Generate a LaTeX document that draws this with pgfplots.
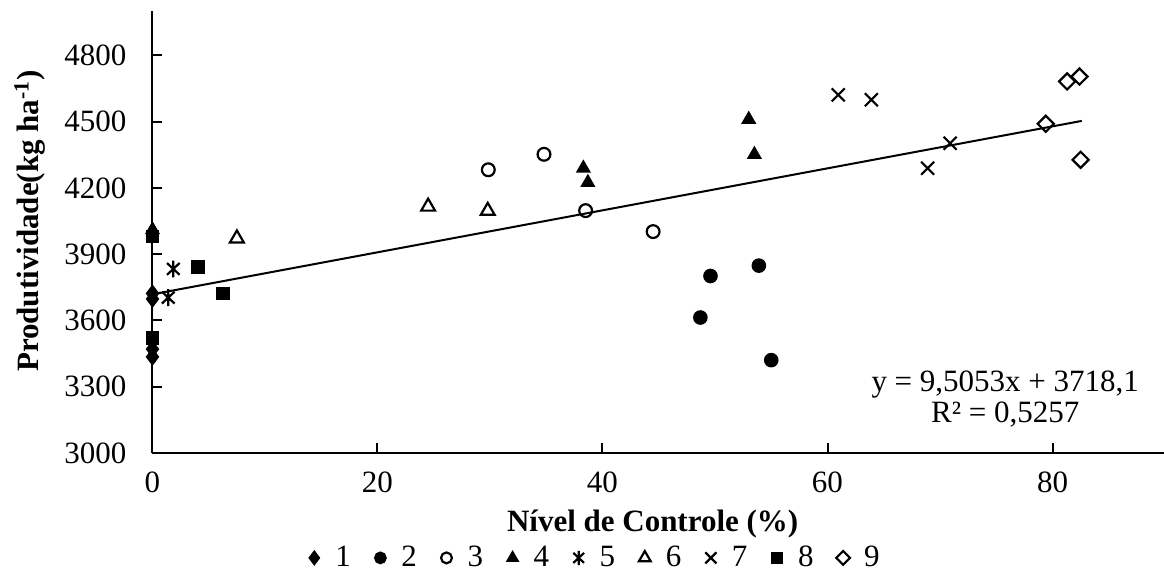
\documentclass[border=0pt]{standalone}
\usepackage{fontspec}
\setmainfont{Liberation Serif}
\usepackage{pgfplots}
\pgfplotsset{compat=1.18}
\pgfkeys{/pgf/number format/assume math mode=true}

% x with a vertical bar, like the spreadsheet "star" marker
\pgfdeclareplotmark{xbar}{%
  \pgfpathmoveto{\pgfqpoint{-.75\pgfplotmarksize}{-.7\pgfplotmarksize}}%
  \pgfpathlineto{\pgfqpoint{.75\pgfplotmarksize}{.7\pgfplotmarksize}}%
  \pgfpathmoveto{\pgfqpoint{-.75\pgfplotmarksize}{.7\pgfplotmarksize}}%
  \pgfpathlineto{\pgfqpoint{.75\pgfplotmarksize}{-.7\pgfplotmarksize}}%
  \pgfpathmoveto{\pgfqpoint{0pt}{-\pgfplotmarksize}}%
  \pgfpathlineto{\pgfqpoint{0pt}{\pgfplotmarksize}}%
  \pgfusepathqstroke}

\pgfplotsset{
  mk/.style={only marks, black, line width=1.1pt,
    legend image code/.code={\draw[##1,every mark/.append style={scale=0.85}]
      plot coordinates {(0pt,0pt)}; \path[draw=none,fill=none] (-4pt,0pt) rectangle (8.5pt,0.1pt);}},
}

\begin{document}
\begin{tikzpicture}
\begin{axis}[
  name=ax, scale only axis, width=506.25pt, height=220.85pt,
  xmin=0, xmax=90, ymin=3000, ymax=5000,
  axis x line=bottom, axis y line=left, axis line style={-, line width=1pt},
  xtick={0,20,...,80}, ytick={3000,3300,...,4800},
  tick align=inside, major tick length=5pt, tick style={line width=1pt, black},
  /pgf/number format/1000 sep={},
  tick label style={font=\fontsize{15.5}{18}\selectfont},
  xticklabel style={yshift=-6pt},
  yticklabel style={xshift=-9.5pt},
  xlabel={\textbf{Nível de Controle (\%)}},
  ylabel={\textbf{Produtividade(kg ha\textsuperscript{-1})}},
  every axis x label/.style={at={(axis description cs:0.494,0)}, yshift=-35.6pt, anchor=center,
    font=\fontsize{15.5}{18}\selectfont},
  every axis y label/.style={at={(axis description cs:0,0.525)}, xshift=-61.25pt, rotate=90, anchor=center,
    font=\fontsize{15.5}{18}\selectfont},
  legend columns=9,
  legend style={at={(axis description cs:0.437,0)}, yshift=-52.5pt, anchor=center,
    draw=none, fill=none, font=\fontsize{15.5}{18}\selectfont,
    /tikz/every even column/.append style={column sep=8.8pt}},
  clip=false,
]
\addplot[black, line width=1pt, mark=none, sharp plot, forget plot] coordinates {(0,3718.1)(82.6,4503.2)};

\addplot[mk, mark=diamond*, mark size=3.6pt] coordinates {(0,3722)(0,3697)(0,3470)(0,3435)};
\addplot[mk, mark=*, mark size=3.1pt] coordinates {(48.7,3613)(49.6,3801)(53.9,3848)(55.0,3420)};
\addplot[mk, mark=o, mark size=3.2pt] coordinates {(29.85,4282)(34.8,4352)(38.5,4097)(44.5,4002)};
\addplot[mk, mark=triangle*, mark size=3.3pt] coordinates {(0,4010)(38.3,4289)(38.7,4224)(53.0,4510)(53.5,4351)};
\addplot[mk, mark=xbar, mark size=4.2pt] coordinates {(1.85,3833)(1.4,3703)};
\addplot[mk, mark=triangle, mark size=4pt] coordinates {(7.5,3971)(24.5,4115)(29.8,4096)};
\addplot[mk, mark=x, mark size=4.6pt] coordinates {(60.96,4621)(63.9,4599)(68.9,4289)(70.9,4402)};
\addplot[mk, mark=square*, mark size=2.9pt] coordinates {(0,3980)(0,3521)(4.07,3843)(6.3,3722)};
\addplot[mk, mark=square, mark size=2.85pt, mark options={rotate=45}] coordinates {(79.4,4490)(81.3,4682)(82.4,4704)(82.5,4327)};
\legend{1,2,3,4,5,6,7,8,9}

\node[align=center, font=\fontsize{15.5}{15.5}\selectfont] at (axis cs:75.8,3245) {y = 9,5053x + 3718,1\\R² = 0,5257};
\coordinate (ll) at (rel axis cs:0,0);
\coordinate (ur) at (rel axis cs:1,1);
\end{axis}
\pgfresetboundingbox
\path ([xshift=-76.25pt,yshift=-59.05pt]ll) rectangle ([xshift=-0.5pt,yshift=5.6pt]ur);
\end{tikzpicture}
\end{document}
